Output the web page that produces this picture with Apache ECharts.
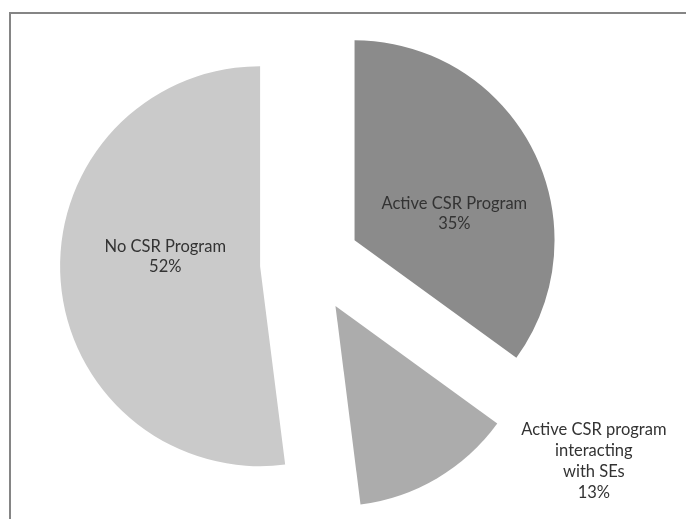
<!DOCTYPE html>
<html>
<head>
<meta charset="utf-8">
<script src="https://cdn.jsdelivr.net/npm/echarts@6/dist/echarts.min.js"></script>
<style>
  html, body { margin: 0; padding: 0; background: #ffffff; }
  #chart { width: 686px; height: 519px; }
</style>
</head>
<body>
<div id="chart"></div>
<script>
// Share of companies by CSR programme status
const categories = [
  'Active CSR Program',
  'Active CSR program\ninteracting\nwith SEs',
  'No CSR Program'
];
const shares = [35, 13, 52];
const sliceColors = ['#8b8b8b', '#acacac', '#cacaca'];

// label nudges from the default inside position, per slice
const labelShift = [
  { dx: 8, dy: 20 },
  { dx: 206, dy: 66 },
  { dx: 8, dy: -16 }
];

const chart = echarts.init(document.getElementById('chart'), null, { renderer: 'canvas' });

chart.setOption({
  animation: false,
  backgroundColor: '#ffffff',
  graphic: [{
    type: 'polyline',
    shape: { points: [[10, 519], [10, 13], [686, 13]] },
    style: { stroke: '#858585', lineWidth: 2, fill: null },
    silent: true
  }],
  series: [{
    type: 'pie',
    center: [310, 263],
    radius: 200,
    startAngle: 90,
    clockwise: true,
    selectedMode: 'multiple',
    selectedOffset: 50,
    avoidLabelOverlap: false,
    emphasis: { disabled: true },
    itemStyle: { borderWidth: 0 },
    label: {
      show: true,
      position: 'inside',
      formatter: p => p.name + '\n' + p.value + '%',
      fontFamily: 'Lato',
      fontSize: 16.5,
      lineHeight: 20,
      color: '#333333',
      align: 'center'
    },
    labelLine: { show: false },
    labelLayout: p => labelShift[p.dataIndex],
    data: categories.map((name, i) => ({
      name: name,
      value: shares[i],
      selected: true,
      itemStyle: { color: sliceColors[i] },
      label: i === 1 ? { lineHeight: 21 } : {}
    }))
  }]
});
</script>
</body>
</html>
